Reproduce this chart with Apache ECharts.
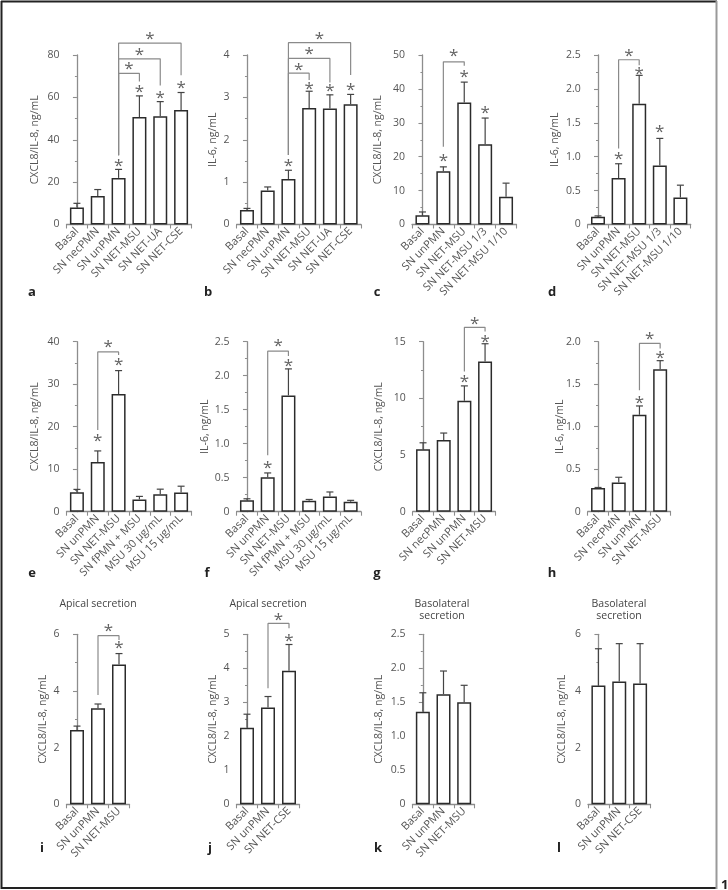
<!DOCTYPE html>
<html>
<head>
<meta charset="utf-8">
<script src="https://cdn.jsdelivr.net/npm/echarts@6/dist/echarts.min.js"></script>
<style>html,body{margin:0;padding:0;background:#fff}#chart{width:728px;height:890px}</style>
</head>
<body>
<div id="chart"></div>
<script>
// ---------------- DATA ----------------
const nameIL8 = 'CXCL8/IL-8, ng/mL';
const nameIL6 = 'IL-6, ng/mL';

const catsA = ['Basal', 'SN necPMN', 'SN unPMN', 'SN NET-MSU', 'SN NET-UA', 'SN NET-CSE'];
const meanA = [8.0, 13.5, 22.0, 50.7, 51.1, 54.0];
const errA  = [2.0, 3.0, 4.0, 10.0, 6.9, 8.3];
const ticksA = ['0', '20', '40', '60', '80'];
const starsA = [[2, 28.9], [3, 64.1], [4, 60.9], [5, 65.6], [2.5, 74.6], [3, 81.3], [3.5, 88.7]];
const bracketsA = [[2, 3, 32.7, 71.3, 67.5], [2, 4, 32.7, 78.2, 65.6], [2, 5, 32.7, 85.6, 70.4]];

const catsB = ['Basal', 'SN necPMN', 'SN unPMN', 'SN NET-MSU', 'SN NET-UA', 'SN NET-CSE'];
const meanB = [0.345, 0.80, 1.075, 2.75, 2.737, 2.84];
const errB  = [0.035, 0.086, 0.205, 0.395, 0.323, 0.23];
const ticksB = ['0', '1', '2', '3', '4'];
const starsB = [[2, 1.44], [3, 3.27], [4, 3.21], [5, 3.25], [2.5, 3.72], [3, 4.08], [3.5, 4.45]];
const bracketsB = [[2, 3, 1.64, 3.57, 3.41], [2, 4, 1.64, 3.92, 3.35], [2, 5, 1.64, 4.29, 3.53]];

const catsC = ['Basal', 'SN unPMN', 'SN NET-MSU', 'SN NET-MSU 1/3', 'SN NET-MSU 1/10'];
const meanC = [2.75, 15.7, 36.0, 23.7, 8.2];
const errC  = [0.95, 1.3, 6.0, 7.7, 4.0];
const ticksC = ['0', '10', '20', '30', '40', '50'];
const starsC = [[1, 19.5], [2, 44.4], [3, 33.8], [1.5, 50.5]];
const bracketsC = [[1, 2, 22.9, 48.0, 46.8]];

const catsD = ['Basal', 'SN unPMN', 'SN NET-MSU', 'SN NET-MSU 1/3', 'SN NET-MSU 1/10'];
const meanD = [0.113, 0.686, 1.78, 0.87, 0.40];
const errD  = [0.014, 0.21, 0.42, 0.40, 0.18];
const ticksD = ['0', '0.5', '1.0', '1.5', '2.0', '2.5'];
const starsD = [[1, 1.01], [2, 2.26], [3, 1.40], [1.5, 2.53]];
const bracketsD = [[1, 2, 1.12, 2.43, 2.35]];

const catsE = ['Basal', 'SN unPMN', 'SN NET-MSU', 'SN fPMN + MSU', 'MSU 30 µg/mL', 'MSU 15 µg/mL'];
const meanE = [4.6, 11.7, 27.7, 2.9, 4.1, 4.5];
const errE  = [0.65, 2.6, 5.5, 0.7, 1.2, 1.5];
const ticksE = ['0', '10', '20', '30', '40'];
const starsE = [[1, 17.4], [2, 35.1], [1.5, 39.4]];
const bracketsE = [[1, 2, 19.2, 37.6, 36.9]];

const catsF = ['Basal', 'SN unPMN', 'SN NET-MSU', 'SN fPMN + MSU', 'MSU 30 µg/mL', 'MSU 15 µg/mL'];
const meanF = [0.17, 0.505, 1.71, 0.16, 0.225, 0.147];
const errF  = [0.02, 0.065, 0.39, 0.02, 0.065, 0.02];
const ticksF = ['0', '0.5', '1.0', '1.5', '2.0', '2.5'];
const starsF = [[1, 0.68], [2, 2.19], [1.5, 2.48]];
const bracketsF = [[1, 2, 0.83, 2.36, 2.29]];

const catsG = ['Basal', 'SN necPMN', 'SN unPMN', 'SN NET-MSU'];
const meanG = [5.52, 6.32, 9.8, 13.26];
const errG  = [0.56, 0.62, 1.3, 1.56];
const ticksG = ['0', '5', '10', '15'];
const starsG = [[2, 11.7], [3, 15.2], [2.5, 16.8]];
const bracketsG = [[2, 3, 12.36, 16.27, 15.9]];

const catsH = ['Basal', 'SN necPMN', 'SN unPMN', 'SN NET-MSU'];
const meanH = [0.28, 0.345, 1.14, 1.677];
const errH  = [0.005, 0.06, 0.104, 0.1];
const ticksH = ['0', '0.5', '1.0', '1.5', '2.0'];
const starsH = [[2, 1.31], [3, 1.84], [2.5, 2.06]];
const bracketsH = [[2, 3, 1.43, 1.98, 1.92]];

const catsI = ['Basal', 'SN unPMN', 'SN NET-MSU'];
const meanI = [2.62, 3.39, 4.93];
const errI  = [0.14, 0.15, 0.39];
const ticksI = ['0', '2', '4', '6'];
const starsI = [[2, 5.6], [1.5, 6.21]];
const bracketsI = [[1, 2, 3.86, 5.95, 5.8]];

const catsJ = ['Basal', 'SN unPMN', 'SN NET-CSE'];
const meanJ = [2.25, 2.85, 3.93];
const errJ  = [0.4, 0.32, 0.77];
const ticksJ = ['0', '1', '2', '3', '4', '5'];
const starsJ = [[2, 4.88], [1.5, 5.49]];
const bracketsJ = [[1, 2, 3.41, 5.32, 5.18]];

const catsK = ['Basal', 'SN unPMN', 'SN NET-MSU'];
const meanK = [1.36, 1.62, 1.50];
const errK  = [0.28, 0.34, 0.25];
const ticksK = ['0', '0.5', '1.0', '1.5', '2.0', '2.5'];

const catsL = ['Basal', 'SN unPMN', 'SN NET-CSE'];
const meanL = [4.19, 4.33, 4.26];
const errL  = [1.3, 1.34, 1.41];
const ticksL = ['0', '2', '4', '6'];

// ---------------- PANELS ----------------
const panels = [
  {cats: catsA, mean: meanA, err: errA, ticks: ticksA, max: 80, step: 20, name: nameIL8, stars: starsA, brackets: bracketsA},
  {cats: catsB, mean: meanB, err: errB, ticks: ticksB, max: 4, step: 1, name: nameIL6, stars: starsB, brackets: bracketsB},
  {cats: catsC, mean: meanC, err: errC, ticks: ticksC, max: 50, step: 10, name: nameIL8, stars: starsC, brackets: bracketsC},
  {cats: catsD, mean: meanD, err: errD, ticks: ticksD, max: 2.5, step: 0.5, name: nameIL6, stars: starsD, brackets: bracketsD},
  {cats: catsE, mean: meanE, err: errE, ticks: ticksE, max: 40, step: 10, name: nameIL8, stars: starsE, brackets: bracketsE},
  {cats: catsF, mean: meanF, err: errF, ticks: ticksF, max: 2.5, step: 0.5, name: nameIL6, stars: starsF, brackets: bracketsF},
  {cats: catsG, mean: meanG, err: errG, ticks: ticksG, max: 15, step: 5, name: nameIL8, stars: starsG, brackets: bracketsG},
  {cats: catsH, mean: meanH, err: errH, ticks: ticksH, max: 2, step: 0.5, name: nameIL6, stars: starsH, brackets: bracketsH},
  {cats: catsI, mean: meanI, err: errI, ticks: ticksI, max: 6, step: 2, name: nameIL8, stars: starsI, brackets: bracketsI},
  {cats: catsJ, mean: meanJ, err: errJ, ticks: ticksJ, max: 5, step: 1, name: nameIL8, stars: starsJ, brackets: bracketsJ},
  {cats: catsK, mean: meanK, err: errK, ticks: ticksK, max: 2.5, step: 0.5, name: nameIL8, stars: [], brackets: []},
  {cats: catsL, mean: meanL, err: errL, ticks: ticksL, max: 6, step: 2, name: nameIL8, stars: [], brackets: []}
];

// layout (pixels)
const rowTop = [55, 341.7, 634.3];
const rowH = [169.5, 170, 170];
const layout = [
  {left: 66.5, width: 125, row: 0, gap: 26},
  {left: 236.6, width: 124.4, row: 0, gap: 18},
  {left: 412, width: 104.5, row: 0, gap: 28},
  {left: 587.7, width: 103, row: 0, gap: 27},
  {left: 66.5, width: 125, row: 1, gap: 26},
  {left: 236.6, width: 124.4, row: 1, gap: 26},
  {left: 412.7, width: 82.7, row: 1, gap: 28},
  {left: 587.7, width: 82.8, row: 1, gap: 22},
  {left: 66.5, width: 63, row: 2, gap: 18},
  {left: 236.5, width: 63, row: 2, gap: 18},
  {left: 412.5, width: 62, row: 2, gap: 28},
  {left: 588, width: 62.5, row: 2, gap: 20}
];

const FONT = '"Open Sans", "Noto Sans", sans-serif';
const AXIS_C = '#8d8d8d';
const TEXT_C = '#555';

const grids = [], xAxes = [], yAxes = [], series = [];

panels.forEach((p, i) => {
  const L = layout[i];
  grids.push({left: L.left, top: rowTop[L.row], width: L.width, height: rowH[L.row], containLabel: false});
  xAxes.push({
    type: 'category', gridIndex: i, data: p.cats,
    axisLine: {show: true, lineStyle: {color: AXIS_C, width: 1.3}},
    axisTick: {show: true, length: 4, lineStyle: {color: AXIS_C, width: 1.1}},
    axisLabel: {interval: 0, rotate: 45, margin: 5, fontSize: 11, color: TEXT_C, fontFamily: FONT},
    splitLine: {show: false}
  });
  xAxes.push({type: 'value', gridIndex: i, min: -0.5, max: p.cats.length - 0.5, show: false});
  yAxes.push({
    type: 'value', gridIndex: i, min: 0, max: p.max, interval: p.step,
    name: p.name, nameLocation: 'middle', nameGap: L.gap, nameMoveOverlap: false,
    nameTextStyle: {fontSize: 10.5, color: TEXT_C, fontFamily: FONT},
    axisLine: {show: true, lineStyle: {color: AXIS_C, width: 1.3}},
    axisTick: {show: true, length: 4, lineStyle: {color: AXIS_C, width: 1.1}},
    minorTick: {show: true, splitNumber: 2, length: 2, lineStyle: {color: AXIS_C, width: 1}},
    splitLine: {show: false}, minorSplitLine: {show: false},
    axisLabel: {margin: 7, fontSize: 10.5, color: TEXT_C, fontFamily: FONT,
      formatter: v => p.ticks[Math.round(v / p.step)]}
  });
  series.push({
    type: 'bar', xAxisIndex: 2 * i, yAxisIndex: i, data: p.mean, barWidth: 14,
    itemStyle: {color: '#fff', borderColor: '#2b2b2b', borderWidth: 1.5},
    silent: true, animation: false
  });
  series.push({
    type: 'custom', xAxisIndex: 2 * i + 1, yAxisIndex: i,
    data: p.mean.map((m, k) => [k, m, p.err[k]]),
    encode: {x: 0, y: 1}, clip: false, silent: true, animation: false, z: 3,
    renderItem: (params, api) => {
      const x = api.value(0), m = api.value(1), e = api.value(2);
      const a = api.coord([x, m]), b = api.coord([x, m + e]);
      const st = {stroke: '#444', lineWidth: 1.2};
      return {type: 'group', children: [
        {type: 'line', shape: {x1: a[0], y1: a[1], x2: b[0], y2: b[1]}, style: st},
        {type: 'line', shape: {x1: b[0] - 3.5, y1: b[1], x2: b[0] + 3.5, y2: b[1]}, style: st}
      ]};
    }
  });
  p.brackets.forEach(br => {
    series.push({
      type: 'line', xAxisIndex: 2 * i + 1, yAxisIndex: i,
      data: [[br[0], br[2]], [br[0], br[3]], [br[1], br[3]], [br[1], br[4]]],
      symbol: 'none', clip: false, silent: true, animation: false,
      lineStyle: {color: '#8a8a8a', width: 1.2}
    });
  });
  if (p.stars.length) {
    series.push({
      type: 'scatter', xAxisIndex: 2 * i + 1, yAxisIndex: i, data: p.stars,
      symbolSize: 1, itemStyle: {color: 'rgba(0,0,0,0)'}, clip: false, silent: true, animation: false,
      label: {show: true, position: 'inside', formatter: '*', fontSize: 17, color: '#3a3a3a', fontFamily: FONT, offset: [0, 3]}
    });
  }
});

// panel letters, titles, frame
const letters = [
  ['a', 32, 292], ['b', 208, 292], ['c', 377, 292], ['d', 552, 292],
  ['e', 32, 573], ['f', 207, 573], ['g', 377, 573], ['h', 552, 573],
  ['i', 42, 848], ['j', 210, 848], ['k', 378, 848], ['l', 559, 848]
];
const graphics = [];
letters.forEach(l => graphics.push({type: 'text', x: l[1], y: l[2],
  style: {text: l[0], font: 'bold 13px "Open Sans", sans-serif', fill: '#222', textAlign: 'center', textVerticalAlign: 'middle'}}));
const titles = [
  ['Apical secretion', 98, 604], ['Apical secretion', 268, 604],
  ['Basolateral\nsecretion', 442, 610], ['Basolateral\nsecretion', 619, 610]
];
titles.forEach(t => graphics.push({type: 'text', x: t[1], y: t[2],
  style: {text: t[0], font: '10.5px "Open Sans", sans-serif', fill: '#444', textAlign: 'center', textVerticalAlign: 'middle', lineHeight: 12}}));
graphics.push({type: 'line', shape: {x1: 1.5, y1: 1, x2: 1.5, y2: 889}, style: {stroke: '#222', lineWidth: 2}});
graphics.push({type: 'line', shape: {x1: 1, y1: 1.5, x2: 717, y2: 1.5}, style: {stroke: '#222', lineWidth: 2}});
graphics.push({type: 'line', shape: {x1: 1, y1: 888, x2: 717, y2: 888}, style: {stroke: '#222', lineWidth: 2}});
graphics.push({type: 'line', shape: {x1: 716.5, y1: 1, x2: 716.5, y2: 889}, style: {stroke: '#999', lineWidth: 2}});
graphics.push({type: 'text', x: 721, y: 885, style: {text: '1', font: 'bold 13px "Open Sans", sans-serif', fill: '#222', textAlign: 'left', textVerticalAlign: 'middle'}});

const chart = echarts.init(document.getElementById('chart'), null, {renderer: 'canvas'});
chart.setOption({
  animation: false,
  backgroundColor: '#fff',
  textStyle: {fontFamily: FONT},
  grid: grids, xAxis: xAxes, yAxis: yAxes, series: series,
  graphic: graphics
});
</script>
</body>
</html>
